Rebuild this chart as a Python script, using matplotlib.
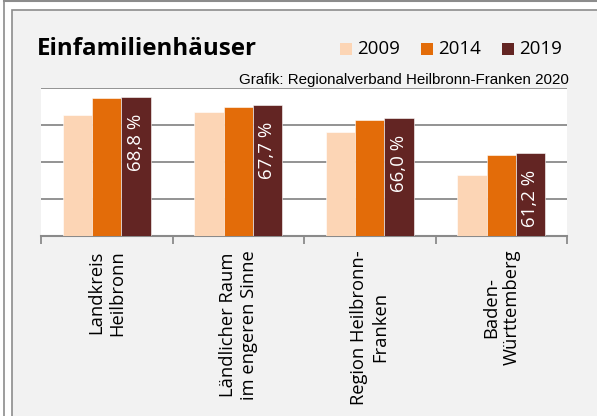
import numpy as np
import matplotlib.pyplot as plt
from matplotlib.patches import Rectangle
from matplotlib.lines import Line2D

# data
regions = ["Landkreis\nHeilbronn", "Ländlicher Raum\nim engeren Sinne",
           "Region Heilbronn-\nFranken", "Baden-\nWürttemberg"]
years = ["2009", "2014", "2019"]
v2009 = [66.4, 66.8, 64.1, 58.2]
v2014 = [68.6, 67.4, 65.7, 60.9]
v2019 = [68.8, 67.7, 66.0, 61.2]
labels2019 = ["68,8 %", "67,7 %", "66,0 %", "61,2 %"]
colors = ["#fcd5b5", "#e36c09", "#632523"]

W, H = 597, 416
fig = plt.figure(figsize=(W / 100, H / 100), dpi=100, facecolor="white")

def fx(x):
    return x / W

def fy(y):
    return 1 - y / H

# frame lines and grey panel
fig.add_artist(Rectangle((fx(12), fy(H + 20)), fx(W + 20), (H + 10) / H,
                         transform=fig.transFigure, facecolor="#f2f2f2",
                         edgecolor="#8c8c8c", linewidth=1.2, zorder=0))
fig.add_artist(Line2D([fx(3.5), fx(3.5)], [0, fy(0.5)], transform=fig.transFigure,
                      color="#8c8c8c", linewidth=1.2))
fig.add_artist(Line2D([fx(3.5), 1], [fy(0.8), fy(0.8)], transform=fig.transFigure,
                      color="#8c8c8c", linewidth=1.5))

ax = fig.add_axes([fx(41), fy(236), (567 - 41) / W, (236 - 88) / H])
ax.set_facecolor("white")

x = np.arange(len(regions))
bw = 0.222
for i, (vals, c) in enumerate(zip([v2009, v2014, v2019], colors)):
    ax.bar(x + (i - 1) * bw, vals, width=bw, color=c, edgecolor="white",
           linewidth=0.4, zorder=3)

for xi, v, lab in zip(x, v2019, labels2019):
    ax.text(xi + bw, v - 6.15, lab, rotation=90, ha="center", va="center",
            color="white", fontsize=13.5, family="Open Sans", zorder=4)

ax.set_ylim(50, 70)
ax.set_xlim(-0.5, 3.5)
ax.set_yticks([55, 60, 65, 70])
ax.yaxis.grid(True, color="#8a8a8a", linewidth=1.3, zorder=1)
ax.tick_params(axis="y", left=False, labelleft=False)
for s in ["left", "right", "top"]:
    ax.spines[s].set_visible(False)
ax.spines["bottom"].set_color("#8a8a8a")
ax.spines["bottom"].set_linewidth(1.5)

ax.set_xticks(x)
ax.set_xticklabels(regions, rotation=90, family="Open Sans", fontsize=13.2,
                   ha="center", va="top", multialignment="center")
ax.tick_params(axis="x", length=0, pad=10)
ax.set_xticks(np.arange(-0.5, 4, 1), minor=True)
ax.tick_params(axis="x", which="minor", length=6, width=1.3, color="#8a8a8a")

# title, legend, source
fig.text(fx(37), fy(55), "Einfamilienhäuser", fontsize=17.4, fontweight="bold",
         family="Open Sans", va="baseline", ha="left")
leg_x = [340, 421, 502]
for lx, yr, c in zip(leg_x, years, colors):
    fig.add_artist(Rectangle((fx(lx), fy(54.5)), 12 / W, 12 / H,
                             transform=fig.transFigure, facecolor=c, edgecolor="none"))
    fig.text(fx(lx + 17), fy(54.5), yr, fontsize=13.5, family="Open Sans",
             va="baseline", ha="left")
fig.text(fx(569), fy(84), "Grafik: Regionalverband Heilbronn-Franken 2020",
         fontsize=10.9, family="Liberation Sans", va="baseline", ha="right")

fig.savefig("out.png", dpi=100, facecolor=fig.get_facecolor())
